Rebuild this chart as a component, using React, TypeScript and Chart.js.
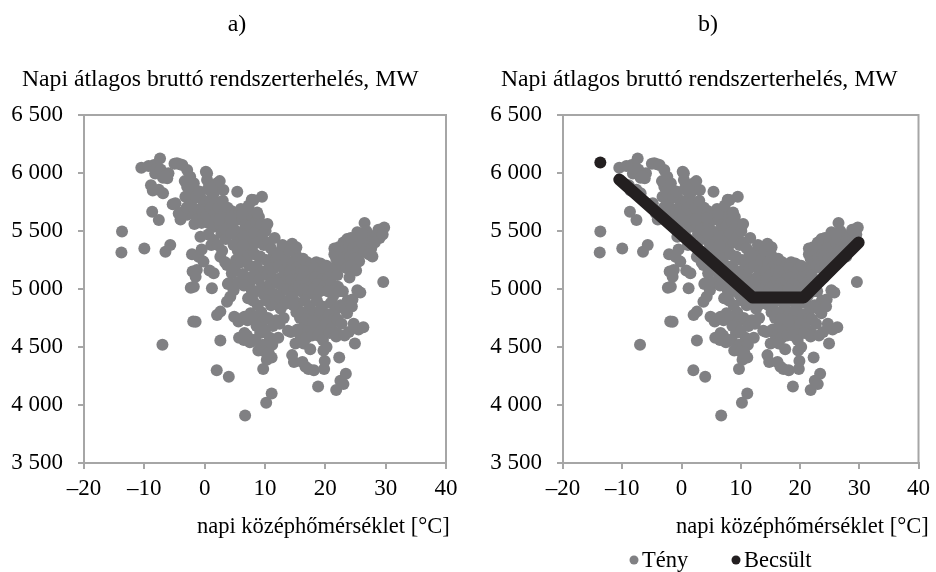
import { useEffect, useRef } from "react";
import { Chart, registerables } from "chart.js";

Chart.register(...registerables);

const FONT = "'Liberation Serif', 'Times New Roman', serif";
const AXIS_COLOR = "#a6a6a6";
const TENY_COLOR = "#808083";
const BECSULT_COLOR = "#231f20";

const xTicks = [-20, -10, 0, 10, 20, 30, 40];
const yTicks = [3500, 4000, 4500, 5000, 5500, 6000, 6500];

const panelLabels = ["a)", "b)"];
const yTitle = "Napi átlagos bruttó rendszerterhelés, MW";
const xTitle = "napi középhőmérséklet [°C]";
const legendLabels = ["Tény", "Becsült"];

// Tény: [napi középhőmérséklet °C, napi átlagos terhelés MW]
const tenyHideg: [number, number][] = [
  [-13.7, 5495], [-13.8, 5315], [-10.5, 6045], [-10.0, 5350],
  [-9.3, 6060], [-8.9, 5895], [-8.7, 5665], [-8.4, 6070], [-8.6, 5850], [-8.2, 5995], [-8.0, 6035],
  [-7.4, 6125], [-7.3, 6030], [-7.6, 5855], [-7.6, 5595], [-6.9, 5825], [-6.9, 5960], [-6.0, 5997],
  [-6.2, 5954], [-6.5, 5322], [-7.0, 4520], [-6.6, 5975],
  [-5.7, 5380], [-5.3, 5730], [-4.6, 6084], [-4.1, 6075], [-4.85, 5740], [-5.0, 6080], [-4.3, 5650], [-4.0, 5600],
  [-3.7, 6069], [-2.9, 6026], [-2.4, 5968], [-2.9, 5882], [-3.2, 5796], [-2.1, 5767], [-2.4, 5653],
  [-2.9, 5640], [-3.8, 5660], [-3.3, 5930], [-2.5, 5840], [-2.6, 5720], [-3.0, 5700], [-2.3, 5010],
  [-1.9, 4720], [-2.1, 5300], [-2.0, 5150],
  [-1.8, 5911], [-1.8, 5696], [-1.0, 5681], [-0.2, 5724], [-0.7, 5451], [-1.0, 5279], [-0.2, 5236],
  [-1.3, 5164], [-1.5, 5106], [-1.8, 5020], [-1.5, 4718], [-0.5, 5570], [-0.5, 5340], [-1.2, 5600],
  [-0.6, 5780], [-1.4, 5800], [-0.9, 5840], [-0.3, 5660], [-1.7, 5560],
];

const tenyAtmenet: [number, number][] = [
  [0.4, 5997], [0.4, 5940], [0.2, 6010], [0.9, 5767], [1.5, 5825], [2.05, 5911], [0.7, 5566], [1.5, 5537],
  [1.5, 5422], [1.5, 5135], [1.2, 5006], [0.8, 5160], [0.3, 5640], [1.0, 5700], [1.7, 5650], [0.6, 5470],
  [1.1, 5380], [1.8, 5600], [0.5, 5860], [1.3, 5880], [1.8, 5750],
  [2.6, 5552], [3.7, 5580], [3.1, 5853], [2.6, 5279], [3.7, 5207], [2.05, 4776], [2.6, 4805], [2.6, 4557],
  [2.0, 4300], [3.85, 5043], [2.5, 5930], [2.3, 5700], [3.2, 5650], [2.8, 5480], [3.5, 5430], [2.2, 5380],
  [3.4, 5230], [3.0, 5760], [3.8, 5700], [3.3, 5520], [2.9, 5330], [2.4, 5600],
  [4.5, 5135], [4.0, 5049], [4.25, 4934], [3.7, 4891], [4.0, 4243], [5.4, 5839], [5.4, 5422], [4.5, 5670],
  [5.0, 5640], [5.5, 5600], [4.6, 5560], [5.2, 5500], [5.8, 5480], [4.8, 5380], [5.5, 5330], [5.9, 5290],
  [5.2, 5250], [5.9, 4740], [4.8, 4990], [5.5, 5060], [6.0, 5690], [5.7, 5650], [4.3, 5610], [4.4, 5480],
  [5.0, 5180], [5.6, 4720], [4.9, 4760],
  [7.0, 5451], [6.7, 3910], [7.8, 5770], [6.3, 5600], [6.8, 5550], [7.2, 5500], [6.5, 5450], [7.5, 5420],
  [7.8, 5350], [6.6, 5300], [7.0, 5260], [7.4, 5200], [6.9, 5100], [7.5, 5060], [6.5, 5030], [7.8, 4990],
  [7.2, 4920], [6.0, 4740], [6.6, 4760], [7.1, 4730], [7.6, 4790], [5.7, 4580], [6.5, 4560], [7.0, 4600],
  [7.5, 4540], [6.6, 4620], [7.9, 5620], [7.0, 5680], [6.4, 5380], [7.6, 5540], [6.2, 5650], [7.3, 5720],
  [6.0, 5230], [6.3, 5130],
  [8.1, 5767], [9.5, 5796], [8.5, 5580], [9.0, 5520], [8.2, 5480], [9.5, 5460], [8.8, 5400], [9.8, 5380],
  [8.3, 5300], [9.2, 5280], [8.6, 5200], [9.7, 5150], [8.2, 5120], [9.0, 5080], [9.5, 5020], [8.5, 4980],
  [9.8, 4950], [8.8, 4860], [9.4, 4800], [8.2, 4760], [9.6, 4720], [8.6, 4680], [9.2, 4620], [8.4, 4560],
  [9.7, 4520], [8.9, 4470], [9.7, 4310], [10.0, 4460], [8.0, 4900], [8.0, 4560], [9.0, 5620], [8.7, 5660],
  [9.4, 5560],
  [10.2, 4020], [11.1, 4100], [10.3, 4390], [11.1, 4410], [11.9, 4730], [10.5, 5400], [11.0, 5350],
  [11.5, 5300], [10.2, 5250], [10.8, 5200], [11.8, 5250], [10.4, 5120], [11.2, 5100], [11.7, 5060],
  [10.6, 5000], [11.4, 4960], [10.2, 4900], [11.0, 4860], [11.8, 4900], [10.5, 4750], [11.3, 4680],
  [10.0, 4640], [10.8, 4580], [11.6, 5440], [10.1, 5500], [10.9, 5050], [11.5, 5180], [10.4, 5560],
  [11.2, 4520], [10.6, 4450],
];

const tenyMeleg: [number, number][] = [
  [12.2, 4580], [13.8, 4640], [12.5, 5320], [13.0, 5270], [13.6, 5330], [12.3, 5200], [13.2, 5160],
  [13.9, 5220], [12.7, 5100], [13.4, 5070], [12.1, 5050], [13.0, 5000], [13.7, 4990], [12.5, 4920],
  [13.3, 4870], [14.0, 5150], [12.1, 5300], [13.5, 5250], [12.6, 4830], [13.9, 4900], [12.9, 5380],
  [12.4, 4700], [13.1, 4750],
  [14.5, 4430], [14.8, 4370], [15.05, 4530], [14.5, 5390], [15.1, 5300], [15.8, 5250], [14.6, 5220],
  [15.4, 5190], [14.2, 5150], [15.0, 5120], [15.7, 5100], [14.4, 5080], [15.3, 5050], [14.9, 5000],
  [15.9, 4980], [14.5, 4930], [15.5, 4880], [15.2, 4800], [15.8, 4750], [14.7, 4860], [16.0, 5160],
  [15.6, 5030], [14.1, 5330], [15.2, 5360], [15.9, 4600], [15.4, 4650], [14.3, 4630],
  [16.7, 4330], [16.3, 5260], [17.0, 5230], [17.6, 5200], [16.5, 5150], [17.3, 5120], [16.1, 5080],
  [17.8, 5090], [16.8, 5050], [17.5, 5020], [16.4, 5000], [17.1, 4980], [17.9, 4960], [16.6, 4900],
  [17.4, 4850], [16.2, 4800], [17.0, 4760], [17.7, 4720], [16.5, 4680], [17.2, 4640], [16.9, 4580],
  [17.8, 4600], [16.4, 4530], [17.5, 4480], [16.8, 4740], [16.2, 4370], [17.2, 4310],
  [18.1, 4300], [19.8, 4310], [18.8, 4160], [18.5, 5230], [19.2, 5220], [18.2, 5180], [19.7, 5170],
  [18.9, 5140], [18.4, 5100], [19.4, 5080], [18.7, 5040], [19.9, 5030], [18.1, 5000], [19.1, 4980],
  [18.6, 4900], [19.5, 4850], [18.3, 4800], [19.0, 4760], [19.8, 4720], [18.5, 4680], [19.3, 4640],
  [18.8, 4600], [19.6, 4560], [19.2, 4820], [18.0, 4720], [19.9, 4380], [19.7, 4470],
  [20.2, 4500], [21.8, 4130], [20.5, 5100], [21.2, 5180], [21.8, 5260], [20.8, 5150], [21.5, 5300],
  [20.2, 5200], [21.0, 5050], [21.6, 5000], [20.4, 4980], [21.3, 4940], [20.9, 4880], [21.7, 4820],
  [20.6, 4780], [21.4, 4740], [20.1, 4700], [21.0, 4660], [21.9, 4620], [20.7, 4620], [21.5, 5350],
  [22.0, 5120], [21.8, 4590],
  [22.3, 4410], [22.5, 4210], [23.4, 4270], [23.9, 4630], [23.6, 4790], [22.2, 5360], [23.0, 5400],
  [23.6, 5430], [22.6, 5300], [23.3, 5340], [22.4, 5240], [23.1, 5270], [23.8, 5300], [22.8, 5200],
  [23.5, 5180], [22.1, 5020], [22.9, 4980], [23.7, 4900], [22.5, 4860], [23.3, 4820], [22.0, 4740],
  [22.7, 4700], [23.2, 4600], [23.9, 5380], [22.3, 4980], [23.0, 4180],
  [24.9, 4530], [24.5, 4910], [25.3, 4990], [25.3, 5490], [24.2, 5440], [25.0, 5420], [25.7, 5380],
  [24.6, 5350], [25.4, 5320], [24.1, 5280], [24.8, 5260], [25.6, 5240], [24.3, 5200], [25.1, 5160],
  [24.7, 4700], [25.5, 4650], [24.0, 5100], [25.8, 4970], [24.4, 4850],
  [26.3, 4670], [26.5, 5570], [27.8, 5280], [26.8, 5500], [27.3, 5460], [26.1, 5400], [27.0, 5360],
  [27.6, 5350], [26.4, 5320], [27.2, 5300], [26.0, 5480], [27.9, 5420], [29.6, 5060], [29.75, 5530],
  [28.5, 5470], [29.2, 5500], [28.2, 5400], [29.0, 5440], [28.8, 5510], [29.5, 5470],
];

// Becsült terhelés: a modell töréspontjai és a különálló leghidegebb nap
const becsultVonal: [number, number][] = [[-10.5, 5943], [12.0, 4927], [20.6, 4927], [29.9, 5400]];
const becsultPont: [number, number][] = [[-13.7, 6090]];

const tenyPontok = [...tenyHideg, ...tenyAtmenet, ...tenyMeleg];

const toXY = (arr: [number, number][]) => arr.map(([x, y]) => ({ x, y }));

const fmtX = (v: number) => (v < 0 ? "\u2013" + Math.abs(v) : String(v));
const fmtY = (v: number) => `${Math.floor(v / 1000)} ${String(v % 1000).padStart(3, "0")}`;

type Geom = { left: number; right: number; top: number; bottom: number };

const W = 468;
const H = 572;

const panelGeoms: Geom[] = [
  { left: 84, right: 446, top: 115, bottom: 463 },
  { left: 95, right: 453, top: 115, bottom: 463 },
];

const TITLE_FONT = `23.7px ${FONT}`;
const BOTTOM_FONT = `22.5px ${FONT}`;

const decorPlugin = {
  id: "decor",
  beforeDatasetsDraw(chart: any) {
    const { ctx, chartArea: a } = chart;
    ctx.save();
    ctx.strokeStyle = AXIS_COLOR;
    ctx.lineWidth = 2;
    ctx.strokeRect(a.left, a.top, a.right - a.left, a.bottom - a.top);
    ctx.restore();
  },
  afterDraw(chart: any, _args: any, opts: any) {
    const { ctx, chartArea: a } = chart;
    ctx.save();
    ctx.fillStyle = "#000";
    ctx.textBaseline = "alphabetic";
    ctx.textAlign = "center";
    ctx.font = `24px ${FONT}`;
    ctx.fillText(opts.panel, opts.panelX, 31);
    ctx.textAlign = "left";
    ctx.font = TITLE_FONT;
    ctx.fillText(yTitle, a.left - 62, 86);
    ctx.font = BOTTOM_FONT;
    ctx.fillText(xTitle, a.left + 113, 533);
    if (opts.legend) {
      const items = [
        { label: legendLabels[0], color: TENY_COLOR, x: 166 },
        { label: legendLabels[1], color: BECSULT_COLOR, x: 268 },
      ];
      for (const it of items) {
        ctx.fillStyle = it.color;
        ctx.beginPath();
        ctx.arc(it.x, 560, 4.5, 0, Math.PI * 2);
        ctx.fill();
        ctx.fillStyle = "#000";
        ctx.fillText(it.label, it.x + 8, 567);
      }
    }
    ctx.restore();
  },
};

function buildChart(canvas: HTMLCanvasElement, idx: number) {
  const g = panelGeoms[idx];
  const datasets: any[] = [
    {
      label: legendLabels[0],
      data: toXY(tenyPontok),
      backgroundColor: TENY_COLOR,
      borderWidth: 0,
      pointRadius: 6,
      pointHoverRadius: 6,
      order: 2,
    },
  ];
  if (idx === 1) {
    datasets.push(
      {
        label: legendLabels[1],
        data: toXY(becsultVonal),
        showLine: true,
        borderColor: BECSULT_COLOR,
        backgroundColor: BECSULT_COLOR,
        borderWidth: 12,
        borderCapStyle: "round",
        borderJoinStyle: "round",
        pointRadius: 0,
        order: 0,
      },
      {
        label: legendLabels[1] + " ",
        data: toXY(becsultPont),
        backgroundColor: BECSULT_COLOR,
        borderWidth: 0,
        pointRadius: 6,
        order: 1,
      }
    );
  }
  const tickFont = { family: FONT, size: 23 };
  return new Chart(canvas, {
    type: "scatter",
    data: { datasets },
    plugins: [decorPlugin],
    options: {
      responsive: false,
      animation: false,
      events: [],
      layout: { padding: { left: 0, right: W - g.right, top: g.top, bottom: 0 } },
      plugins: {
        legend: { display: false },
        tooltip: { enabled: false },
        title: { display: false },
        decor: { panel: panelLabels[idx], panelX: idx === 0 ? 237 : 240, legend: idx === 1 },
      } as any,
      scales: {
        x: {
          type: "linear",
          min: xTicks[0],
          max: xTicks[xTicks.length - 1],
          afterBuildTicks: (s: any) => {
            s.ticks = xTicks.map((value) => ({ value }));
          },
          afterFit: (s: any) => {
            s.height = H - g.bottom;
          },
          grid: { drawOnChartArea: false, drawTicks: true, tickLength: 6, color: AXIS_COLOR, lineWidth: 2 },
          border: { display: true, color: AXIS_COLOR, width: 2 },
          ticks: {
            color: "#000",
            font: tickFont,
            padding: 6,
            maxRotation: 0,
            autoSkip: false,
            callback: (v: any) => fmtX(Number(v)),
          },
        },
        y: {
          type: "linear",
          min: yTicks[0],
          max: yTicks[yTicks.length - 1],
          afterBuildTicks: (s: any) => {
            s.ticks = yTicks.map((value) => ({ value }));
          },
          afterFit: (s: any) => {
            s.width = g.left;
          },
          grid: { drawOnChartArea: false, drawTicks: true, tickLength: 6, color: AXIS_COLOR, lineWidth: 2 },
          border: { display: true, color: AXIS_COLOR, width: 2 },
          ticks: {
            color: "#000",
            font: tickFont,
            padding: 15,
            autoSkip: false,
            callback: (v: any) => fmtY(Number(v)),
          },
        },
      },
    } as any,
  });
}

function Panel({ idx }: { idx: number }) {
  const ref = useRef<HTMLCanvasElement | null>(null);
  useEffect(() => {
    if (!ref.current) return;
    const chart = buildChart(ref.current, idx);
    return () => chart.destroy();
  }, [idx]);
  return (
    <canvas
      ref={ref}
      width={W}
      height={H}
      style={{ position: "absolute", top: 0, left: idx * W, width: W, height: H, display: "block" }}
    />
  );
}

export default function App() {
  return (
    <div style={{ position: "fixed", left: 0, top: 0, width: 936, height: 572, background: "#fff" }}>
      <Panel idx={0} />
      <Panel idx={1} />
    </div>
  );
}
